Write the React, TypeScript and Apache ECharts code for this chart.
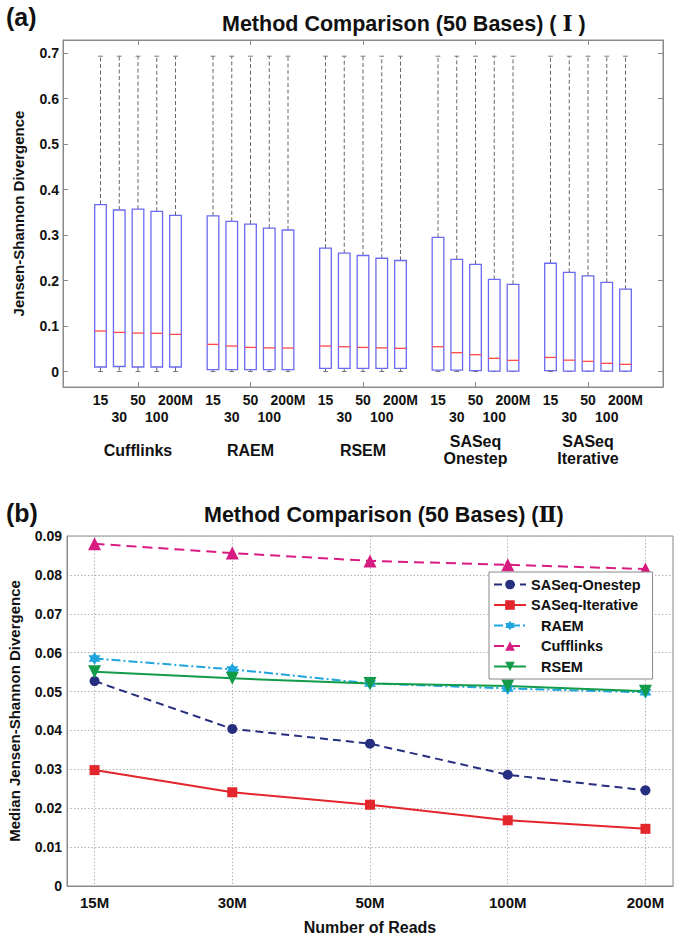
import React, { useEffect, useRef } from 'react';
import * as echarts from 'echarts';

// ---------- Panel (a): box plots ----------
const readDepths = ['15', '30', '50', '100', '200M'];
const methodNames = ['Cufflinks', 'RAEM', 'RSEM', 'SASeq\nOnestep', 'SASeq\nIterative'];

const cufflinksQ1 = [0.010, 0.011, 0.010, 0.010, 0.010];
const cufflinksMed = [0.089, 0.086, 0.0846, 0.084, 0.0817];
const cufflinksQ3 = [0.367, 0.355, 0.357, 0.352, 0.343];

const raemQ1 = [0.004, 0.004, 0.004, 0.004, 0.004];
const raemMed = [0.0597, 0.056, 0.053, 0.052, 0.0516];
const raemQ3 = [0.342, 0.330, 0.324, 0.315, 0.311];

const rsemQ1 = [0.007, 0.007, 0.007, 0.007, 0.007];
const rsemMed = [0.056, 0.0545, 0.053, 0.052, 0.051];
const rsemQ3 = [0.271, 0.260, 0.255, 0.249, 0.244];

const onestepQ1 = [0.003, 0.003, 0.002, 0.001, 0.001];
const onestepMed = [0.0545, 0.0414, 0.037, 0.029, 0.0246];
const onestepQ3 = [0.295, 0.2465, 0.2355, 0.2026, 0.1916];

const iterativeQ1 = [0.002, 0.001, 0.001, 0.001, 0.001];
const iterativeMed = [0.031, 0.025, 0.0224, 0.018, 0.0158];
const iterativeQ3 = [0.238, 0.218, 0.210, 0.196, 0.181];

const whiskerLow = [0, 0, 0, 0, 0];
const whiskerHigh = [0.693, 0.693, 0.693, 0.693, 0.693];

const topYTicks = ['0', '0.1', '0.2', '0.3', '0.4', '0.5', '0.6', '0.7'];

// ---------- Panel (b): medians vs reads ----------
const readLabels = ['15M', '30M', '50M', '100M', '200M'];
const seriesNames = ['SASeq-Onestep', 'SASeq-Iterative', 'RAEM', 'Cufflinks', 'RSEM'];
const onestepMedian = [0.0527, 0.0404, 0.0366, 0.0286, 0.0246];
const iterativeMedian = [0.0298, 0.0241, 0.0209, 0.0169, 0.0147];
const raemMedian = [0.0585, 0.0557, 0.0521, 0.0508, 0.0498];
const cufflinksMedian = [0.0880, 0.0856, 0.0836, 0.0826, 0.0815];
const rsemMedian = [0.0551, 0.0534, 0.0521, 0.0514, 0.0501];

const FONT = '"Liberation Sans", Arial, Helvetica, sans-serif';
const SERIF = '"Liberation Serif", "DejaVu Serif", "Noto Sans CJK SC", serif';
const FRAME = '#8a8a8a';

const hexagram =
  'path://M0,-1L0.2887,-0.5L0.866,-0.5L0.577,0L0.866,0.5L0.2887,0.5L0,1L-0.2887,0.5L-0.866,0.5L-0.577,0L-0.866,-0.5L-0.2887,-0.5Z';

export default function App() {
  const ref = useRef<HTMLDivElement>(null);

  useEffect(() => {
    if (!ref.current) return;
    const chart = echarts.init(ref.current, null, { renderer: 'svg' });

    // categories: positions -1..31 (33 points), boxes at 1..5, 7..11, ...
    const nCat = 33;
    const catIds: string[] = [];
    const tickText: string[] = [];
    const groupText: string[] = [];
    const groupCenters: number[] = [];
    for (let k = 0; k < nCat; k++) {
      catIds.push('c' + k);
      const p = k - 1;
      let t = '';
      let gt = '';
      if (p >= 1 && p <= 29 && (p - 1) % 6 < 5) {
        const j = (p - 1) % 6;
        const g = Math.floor((p - 1) / 6);
        t = j % 2 === 0 ? readDepths[j] : '\n' + readDepths[j];
        if (j === 2) {
          gt = methodNames[g];
          groupCenters.push(k);
        }
      }
      tickText.push(t);
      groupText.push(gt);
    }

    const groups = [
      [cufflinksQ1, cufflinksMed, cufflinksQ3],
      [raemQ1, raemMed, raemQ3],
      [rsemQ1, rsemMed, rsemQ3],
      [onestepQ1, onestepMed, onestepQ3],
      [iterativeQ1, iterativeMed, iterativeQ3],
    ];
    const boxData: number[][] = [];
    groups.forEach((gArr, g) => {
      for (let j = 0; j < 5; j++) {
        const k = g * 6 + j + 2;
        boxData.push([k, gArr[0][j], gArr[1][j], gArr[2][j], whiskerLow[j], whiskerHigh[j]]);
      }
    });

    const renderBox = (params: any, api: any) => {
      const k = api.value(0);
      const q1 = api.value(1);
      const med = api.value(2);
      const q3 = api.value(3);
      const lo = api.value(4);
      const hi = api.value(5);
      const pQ1 = api.coord([k, q1]);
      const pMed = api.coord([k, med]);
      const pQ3 = api.coord([k, q3]);
      const pLo = api.coord([k, lo]);
      const pHi = api.coord([k, hi]);
      const cx = pQ1[0];
      const bw = api.size([1, 0])[0] * 0.62;
      const cap = 2.4;
      const whisk = { stroke: '#666', lineWidth: 1, lineDash: [4, 2.5] };
      return {
        type: 'group',
        children: [
          { type: 'line', shape: { x1: cx, y1: pQ3[1], x2: cx, y2: pHi[1] }, style: whisk },
          { type: 'line', shape: { x1: cx, y1: pQ1[1], x2: cx, y2: pLo[1] }, style: whisk },
          { type: 'line', shape: { x1: cx - cap, y1: pHi[1], x2: cx + cap, y2: pHi[1] }, style: { stroke: '#777', lineWidth: 1 } },
          { type: 'line', shape: { x1: cx - cap, y1: pLo[1], x2: cx + cap, y2: pLo[1] }, style: { stroke: '#777', lineWidth: 1 } },
          {
            type: 'rect',
            shape: { x: cx - bw / 2, y: pQ3[1], width: bw, height: pQ1[1] - pQ3[1] },
            style: { fill: 'none', stroke: '#6a6af2', lineWidth: 1.3 },
          },
          {
            type: 'line',
            shape: { x1: cx - bw / 2, y1: pMed[1], x2: cx + bw / 2, y2: pMed[1] },
            style: { stroke: '#ff4a4a', lineWidth: 1.3 },
          },
        ],
      };
    };

    const boldLabel = { fontFamily: FONT, fontWeight: 'bold' as const, color: '#111' };

    const lineSeries = (name: string, data: number[], color: string, symbol: string, size: any, lineType: any, rotate = 0) => ({
      type: 'line',
      name,
      xAxisIndex: 3,
      yAxisIndex: 2,
      data: data.map((v, i) => [i, v]),
      symbol,
      symbolSize: size,
      symbolRotate: rotate,
      showAllSymbol: true,
      itemStyle: { color, borderWidth: 0 },
      lineStyle: { color, width: 2, type: lineType },
      emphasis: { disabled: true },
    });

    const titleRich = {
      a: { fontFamily: FONT, fontWeight: 'bold', fontSize: 21.5, color: '#111' },
      b: { fontFamily: SERIF, fontWeight: 'bold', fontSize: 21.5, color: '#111' },
    };

    const option: any = {
      animation: false,
      backgroundColor: '#fff',
      title: [
        {
          text: '{a|Method Comparison (50 Bases) ( }{b|Ⅰ}{a| )}',
          left: 222,
          top: 13,
          padding: 0,
          textStyle: { rich: titleRich },
        },
        {
          text: '{a|Method Comparison (50 Bases) (}{b|Ⅱ}{a|)}',
          left: 204,
          top: 504,
          padding: 0,
          textStyle: { rich: titleRich },
        },
      ],
      graphic: [
        { type: 'text', left: 6, top: 4, style: { text: '(a)', font: `bold 25px ${FONT}`, fill: '#111' } },
        { type: 'text', left: 6, top: 500, style: { text: '(b)', font: `bold 25px ${FONT}`, fill: '#111' } },
      ],
      legend: {
        orient: 'vertical',
        left: 489,
        top: 572,
        itemWidth: 32,
        itemHeight: 12,
        itemGap: 0.5,
        padding: [2.5, 12, 2.5, 4],
        backgroundColor: '#fff',
        borderColor: '#888',
        borderWidth: 1,
        data: seriesNames,
        selectedMode: false,
        formatter: (name: string) => (seriesNames.indexOf(name) >= 2 ? `{i|${name}}` : `{n|${name}}`),
        textStyle: {
          fontFamily: FONT,
          fontWeight: 'bold',
          fontSize: 14.5,
          color: '#111',
          lineHeight: 20,
          rich: {
            n: { fontFamily: FONT, fontWeight: 'bold', fontSize: 14.5, color: '#111', lineHeight: 20 },
            i: { fontFamily: FONT, fontWeight: 'bold', fontSize: 14.5, color: '#111', lineHeight: 20, padding: [0, 0, 0, 10] },
          },
        },
      },
      grid: [
        { left: 63, top: 40, width: 600, height: 347, show: true, borderColor: FRAME, borderWidth: 1, backgroundColor: 'transparent', outerBoundsMode: 'none' },
        { left: 67, top: 536, width: 606, height: 350, show: true, borderColor: FRAME, borderWidth: 1, backgroundColor: 'transparent', outerBoundsMode: 'none' },
      ],
      xAxis: [
        {
          type: 'category',
          gridIndex: 0,
          position: 'bottom',
          data: catIds,
          boundaryGap: false,
          axisLine: { onZero: false, lineStyle: { color: FRAME } },
          axisTick: { inside: true, length: 5, interval: (i: number) => groupCenters.includes(i), lineStyle: { color: FRAME } },
          axisLabel: {
            interval: 0,
            margin: 4.5,
            formatter: (_v: string, i: number) => tickText[i],
            ...boldLabel,
            fontSize: 14,
            lineHeight: 17,
          },
          splitLine: { show: false },
        },
        {
          type: 'category',
          gridIndex: 0,
          position: 'top',
          data: catIds,
          boundaryGap: false,
          axisLine: { onZero: false, lineStyle: { color: FRAME } },
          axisTick: { inside: true, length: 5, interval: (i: number) => groupCenters.includes(i), lineStyle: { color: FRAME } },
          axisLabel: { show: false },
          splitLine: { show: false },
        },
        {
          type: 'category',
          gridIndex: 0,
          position: 'bottom',
          data: catIds,
          boundaryGap: false,
          axisLine: { show: false, onZero: false },
          axisTick: { show: false },
          axisLabel: {
            interval: 0,
            margin: 63,
            verticalAlign: 'middle',
            formatter: (_v: string, i: number) => groupText[i],
            ...boldLabel,
            fontSize: 16,
            lineHeight: 17,
          },
          splitLine: { show: false },
        },
        {
          type: 'value',
          gridIndex: 1,
          min: -0.2,
          max: 4.2,
          minInterval: 1,
          maxInterval: 1,
          splitNumber: 5,
          axisLine: { onZero: false, lineStyle: { color: FRAME } },
          axisTick: { show: false },
          axisLabel: {
            showMinLabel: false,
            showMaxLabel: false,
            margin: 9,
            formatter: (v: number) => (Math.abs(v - Math.round(v)) < 1e-6 && v >= 0 && v <= 4 ? readLabels[Math.round(v)] : ''),
            ...boldLabel,
            fontSize: 15,
          },
          splitLine: { show: true, lineStyle: { color: '#b4b4b4', type: [1.5, 2], width: 1 } },
          name: 'Number of Reads',
          nameLocation: 'middle',
          nameGap: 33,
          nameTextStyle: { ...boldLabel, fontSize: 16 },
        },
      ],
      yAxis: [
        {
          type: 'value',
          gridIndex: 0,
          position: 'left',
          min: -0.034,
          max: 0.7286,
          minInterval: 0.1,
          maxInterval: 0.1,
          splitNumber: 7,
          axisLine: { show: true, onZero: false, lineStyle: { color: FRAME } },
          axisTick: { show: true, inside: true, length: 5, lineStyle: { color: FRAME } },
          axisLabel: {
            showMinLabel: false,
            showMaxLabel: false,
            margin: 4,
            formatter: (v: number) => {
              const idx = Math.round(v * 10);
              return Math.abs(v * 10 - idx) < 1e-6 && idx >= 0 && idx < topYTicks.length ? topYTicks[idx] : '';
            },
            ...boldLabel,
            fontSize: 14,
          },
          splitLine: { show: false },
          name: 'Jensen-Shannon Divergence',
          nameLocation: 'middle',
          nameGap: 37,
          nameTextStyle: { ...boldLabel, fontSize: 15 },
        },
        {
          type: 'value',
          gridIndex: 0,
          position: 'right',
          min: -0.034,
          max: 0.7286,
          minInterval: 0.1,
          maxInterval: 0.1,
          splitNumber: 7,
          axisLine: { show: true, onZero: false, lineStyle: { color: FRAME } },
          axisTick: { show: true, inside: true, length: 5, lineStyle: { color: FRAME } },
          axisLabel: { show: false },
          splitLine: { show: false },
        },
        {
          type: 'value',
          gridIndex: 1,
          position: 'left',
          min: 0,
          max: 0.09,
          interval: 0.01,
          axisLine: { show: true, onZero: false, lineStyle: { color: FRAME } },
          axisTick: { show: false },
          axisLabel: {
            margin: 5,
            formatter: (v: number) => (v === 0 ? '0' : v.toFixed(2)),
            ...boldLabel,
            fontSize: 14,
          },
          splitLine: { show: true, lineStyle: { color: '#b4b4b4', type: [1.5, 2], width: 1 } },
          name: 'Median Jensen-Shannon Divergence',
          nameLocation: 'middle',
          nameGap: 45,
          nameTextStyle: { ...boldLabel, fontSize: 15 },
        },
      ],
      series: [
        {
          type: 'custom',
          xAxisIndex: 0,
          yAxisIndex: 0,
          renderItem: renderBox,
          data: boxData,
          encode: { x: 0, y: [1, 2, 3, 4, 5] },
          clip: false,
          silent: true,
        },
        lineSeries(seriesNames[0], onestepMedian, '#262e7f', 'circle', 10, [8, 5]),
        lineSeries(seriesNames[1], iterativeMedian, '#e2262c', 'rect', 10, 'solid'),
        lineSeries(seriesNames[2], raemMedian, '#1ea5dd', hexagram, [12, 13], [9, 3, 2, 3]),
        lineSeries(seriesNames[3], cufflinksMedian, '#d81b80', 'triangle', 13, [10, 6]),
        lineSeries(seriesNames[4], rsemMedian, '#129c4a', 'triangle', 13, 'solid', 180),
      ],
    };

    chart.setOption(option);
    return () => chart.dispose();
  }, []);

  return (
    <div
      ref={ref}
      style={{ position: 'fixed', left: 0, top: 0, width: 681, height: 938, background: '#fff' }}
    />
  );
}
